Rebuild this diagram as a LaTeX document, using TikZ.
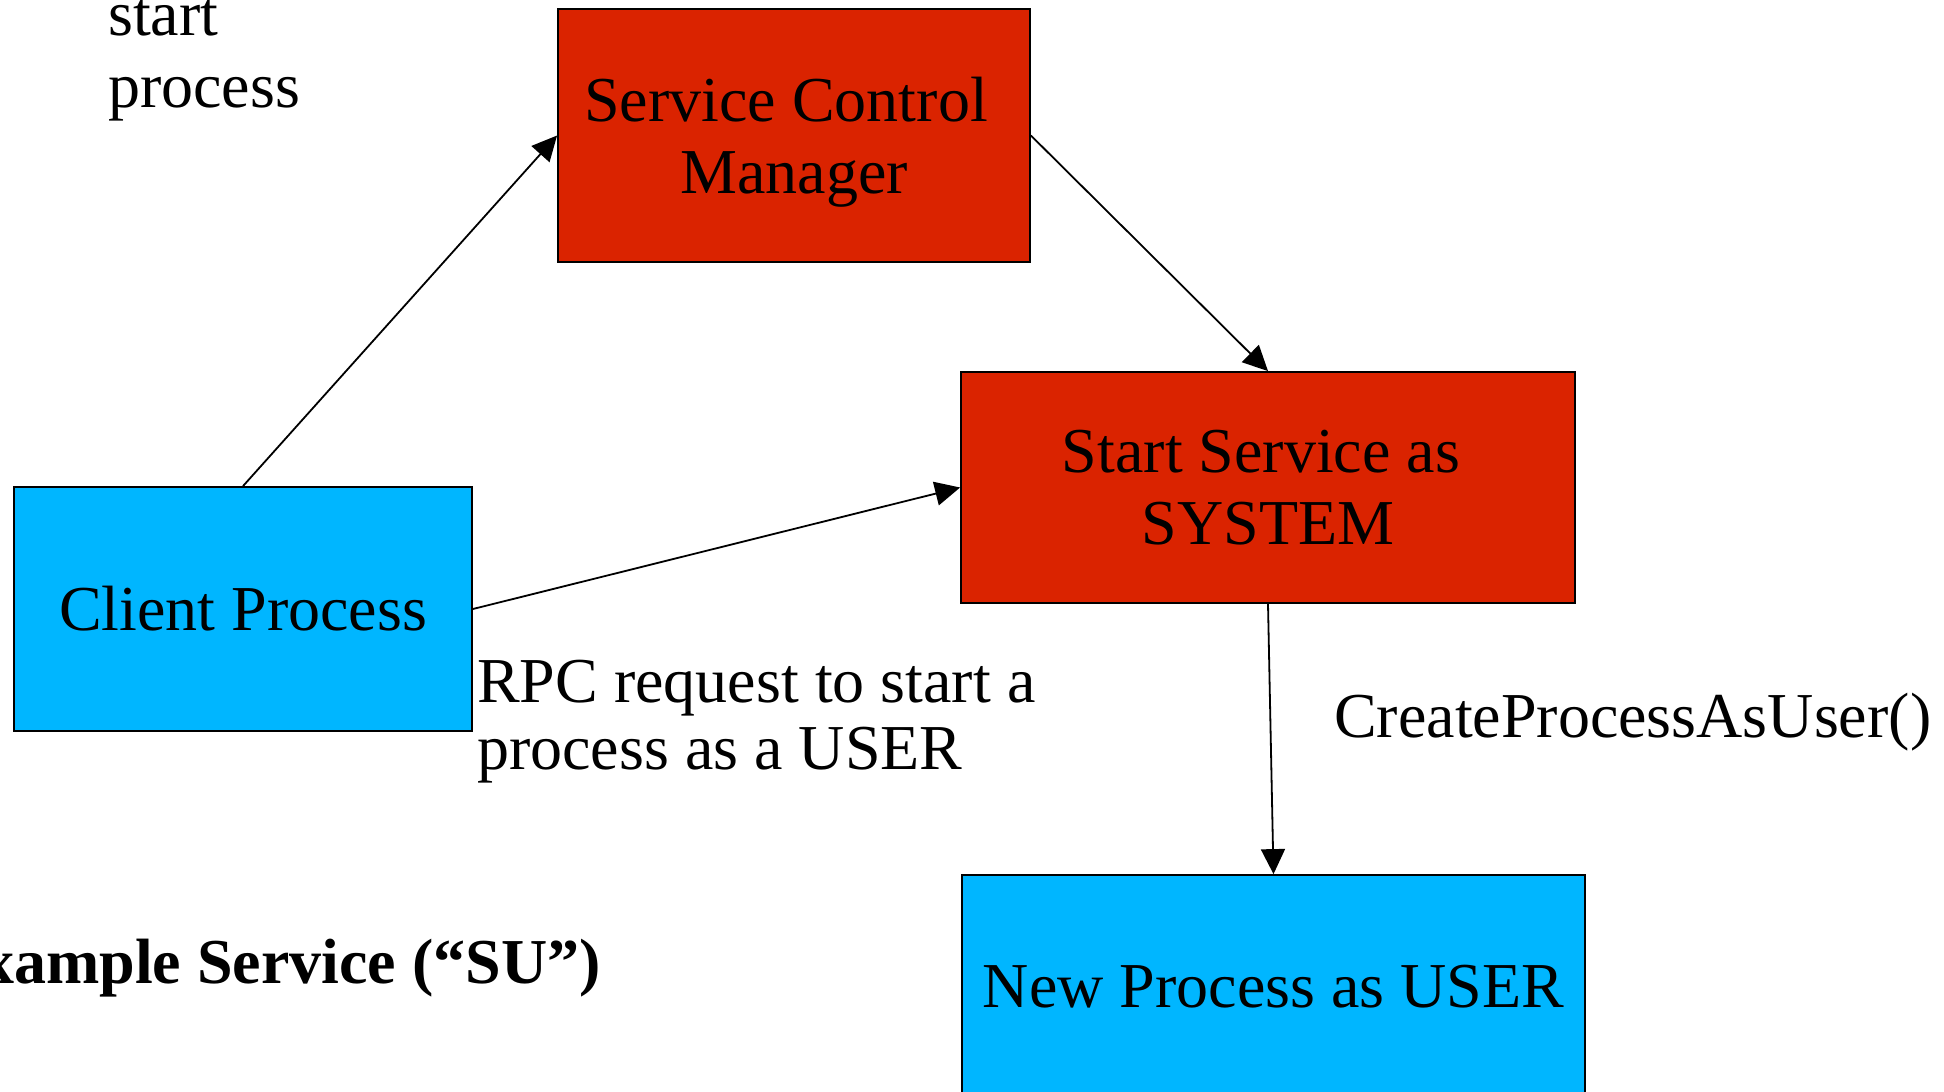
\documentclass[tikz,border=0pt]{standalone}
\usepackage{fontspec}
\setmainfont{Liberation Serif}
\usetikzlibrary{arrows.meta}
\definecolor{sysred}{RGB}{218,35,0}
\definecolor{userblue}{RGB}{0,182,255}

\begin{document}
\begin{tikzpicture}[x=1bp, y=-1bp,
  txt/.style={font=\fontsize{64bp}{72bp}\selectfont},
  box/.style={txt, draw=black, line width=1.8bp, inner sep=0pt, align=center},
  sysbox/.style={box, fill=sysred},
  userbox/.style={box, fill=userblue},
  flow/.style={-{Triangle[length=25bp, width=24bp]}, line width=1.8bp},
  plain/.style={txt, inner sep=0pt}]

  % page frame
  \useasboundingbox (0,0) rectangle (1944,1091);

  % processes and services
  \node[sysbox, minimum width=472bp, minimum height=253bp, text depth=0pt]
    (scm) at (794,135.5) {Service Control\hspace*{16bp}\\Manager};
  \node[sysbox, minimum width=614bp, minimum height=231bp]
    (start) at (1268,487.5) {Start Service as\hspace*{14bp}\\SYSTEM};
  \node[userbox, minimum width=458bp, minimum height=244bp]
    (client) at (243,609) {Client Process};
  \node[userbox, minimum width=623bp, minimum height=224bp]
    (new) at (1273.5,987) {New Process as USER};

  % control flow
  \draw[flow] (client.north) -- (scm.west);
  \draw[flow] (scm.east) -- (start.north);
  \draw[flow] (client.east) -- (start.west);
  \draw[flow] (start.south) -- (new.north);

  % free labels
  \node[plain, anchor=base west] (startlbl) at (108,35)
    {\begin{tabular}[t]{@{}l@{}}start\\process\end{tabular}};
  \node[plain, anchor=base west, font=\fontsize{64bp}{67bp}\selectfont] (rpc) at (477,702)
    {\begin{tabular}[t]{@{}l@{}}RPC request to start a\\process as a USER\end{tabular}};
  \node[plain, anchor=base west] (cpau) at (1334,737) {CreateProcessAsUser()};
  \node[plain, anchor=base east, font=\fontsize{64bp}{72bp}\selectfont\bfseries]
    (title) at (601,983) {Example Service (“SU”)};
\end{tikzpicture}
\end{document}
